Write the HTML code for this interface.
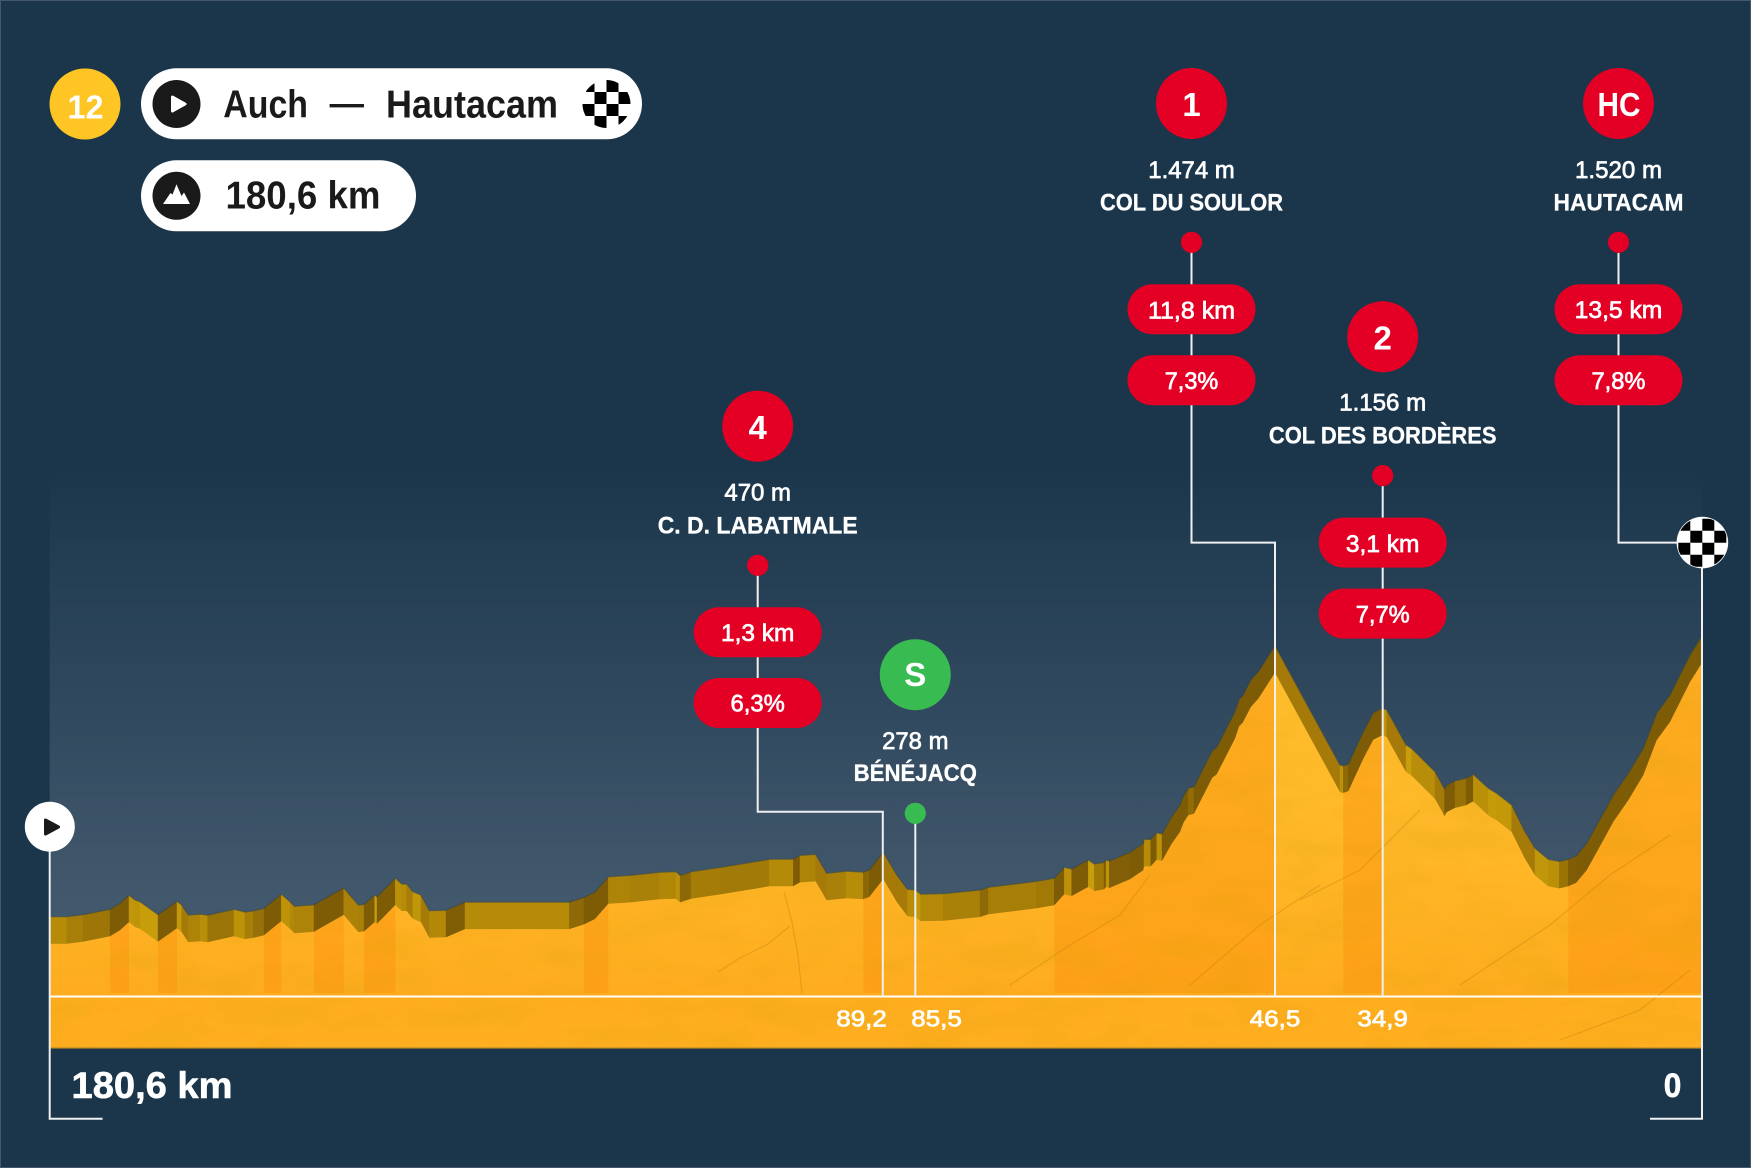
<!DOCTYPE html>
<html lang="fr">
<head>
<meta charset="utf-8">
<title>Étape 12 Auch — Hautacam</title>
<style>
html,body{margin:0;padding:0;background:#1b364b;}
svg{display:block;font-family:"Liberation Sans",sans-serif;}
.reg{font-size:24px;fill:#fff;stroke:#fff;stroke-width:.7px;text-anchor:middle;}
.name{font-size:24px;font-weight:bold;fill:#fff;stroke:#fff;stroke-width:.3px;text-anchor:middle;}
.num{font-size:33px;font-weight:bold;fill:#fff;text-anchor:middle;}
.head{font-size:38.5px;font-weight:bold;fill:#1a1a1a;}
.lead{fill:none;stroke:#eef0f2;stroke-width:2;}
</style>
</head>
<body>
<svg id="chart" xmlns="http://www.w3.org/2000/svg" width="1751" height="1168" viewBox="0 0 1751 1168">
  <defs>
    <linearGradient id="skyGrad" gradientUnits="userSpaceOnUse" x1="0" y1="470" x2="0" y2="900">
      <stop offset="0" stop-color="#1b364b"/>
      <stop offset="1" stop-color="#42586d"/>
    </linearGradient>
    <linearGradient id="frontGrad" gradientUnits="userSpaceOnUse" x1="0" y1="650" x2="0" y2="1000">
      <stop offset="0" stop-color="#ffc02e"/>
      <stop offset="0.57" stop-color="#ffb728"/>
      <stop offset="0.86" stop-color="#ffb022"/>
      <stop offset="1" stop-color="#feac1f"/>
    </linearGradient>
    <filter id="rock" x="0" y="0" width="100%" height="100%">
      <feTurbulence type="fractalNoise" baseFrequency="0.014 0.035" numOctaves="5" seed="11"/>
      <feColorMatrix type="matrix" values="0 0 0 0 0.55  0 0 0 0 0.33  0 0 0 0 0  0 0 0 1.3 -0.5"/>
    </filter>
    <clipPath id="terrainClip"><polygon id="terrainClipShape" points="0,0"/></clipPath>
    <clipPath id="pillChequerClip"><circle cx="606.5" cy="104" r="24"/></clipPath>
    <clipPath id="finishChequerClip"><circle cx="1702.4" cy="542.6" r="25"/></clipPath>
  </defs>

  <rect x="0.5" y="0.5" width="1750" height="1167" fill="#1b364b" stroke="#46596a" stroke-width="1"/>
  <rect x="49.7" y="470" width="1652.3" height="530" fill="url(#skyGrad)"/>

  <g id="faces"></g>
  <polyline id="ridge" fill="none" stroke="#2b4450" stroke-opacity="0.55" stroke-width="1.2" points="0,0"/>
  <polygon id="front" fill="url(#frontGrad)" points="0,0"/>
  <g id="climbs"></g>
  <rect x="49.7" y="997" width="1652.3" height="51" fill="#ffae20"/>
  <rect x="49.7" y="1047.4" width="1652.3" height="1.2" fill="#b98a25"/>
  <g clip-path="url(#terrainClip)">
    <rect x="49.7" y="620" width="1652.3" height="430" filter="url(#rock)" opacity="0.26"/>
    <g fill="none" stroke="#c4820f" stroke-opacity="0.4" stroke-width="1.2">
      <path d="M718 972l22 -14 28 -14 22 -18"/>
      <path d="M784 892l8 30 6 34 4 38"/>
      <path d="M1010 985l60 -40 50 -30 30 -40"/>
      <path d="M1190 985l70 -60 60 -40"/>
      <path d="M1300 900l60 -30 60 -60"/>
      <path d="M1460 985l90 -60 60 -50 60 -40"/>
      <path d="M1560 1040l80 -30 50 -40"/>
    </g>
  </g>

  <line x1="49.7" y1="996.5" x2="1702" y2="996.5" stroke="#fff" stroke-width="2"/>
  <polyline class="lead" points="49.7,850 49.7,1118.7 102.6,1118.7"/>
  <polyline class="lead" points="1702,565 1702,1118.7 1650,1118.7"/>
  <polyline class="lead" points="1618.5,253 1618.5,542.6 1678,542.6"/>
  <g id="leaders"></g>
  <g id="ticks"></g>

  <!-- header -->
  <g>
    <circle cx="85" cy="104" r="35.5" fill="#fec524"/>
    <text x="85.5" y="118.5" class="num" textLength="36" lengthAdjust="spacingAndGlyphs">12</text>
  </g>
  <g>
    <rect x="141" y="68.3" width="501" height="71" rx="35.5" fill="#fff"/>
    <circle cx="176.5" cy="104" r="24" fill="#1a1a1a"/>
    <polygon points="172.5,97 185,104 172.5,111" fill="#fff" stroke="#fff" stroke-width="3" stroke-linejoin="round"/>
    <text x="223.3" y="117.3" class="head" textLength="84.7" lengthAdjust="spacingAndGlyphs">Auch</text>
    <rect x="329.6" y="104" width="34.4" height="3.4" fill="#1a1a1a"/>
    <text x="386" y="117.3" class="head" textLength="172" lengthAdjust="spacingAndGlyphs">Hautacam</text>
    <g clip-path="url(#pillChequerClip)">
      <rect x="582.5" y="80" width="48" height="48" fill="#fff"/>
      <path d="M582.5 80h12v12h-12zM606.5 80h12v12h-12zM594.5 92h12v12h-12zM618.5 92h12v12h-12zM582.5 104h12v12h-12zM606.5 104h12v12h-12zM594.5 116h12v12h-12zM618.5 116h12v12h-12z" fill="#000"/>
    </g>
  </g>
  <g>
    <rect x="141" y="160.3" width="275" height="71" rx="35.5" fill="#fff"/>
    <circle cx="176.5" cy="195.8" r="24" fill="#1a1a1a"/>
    <polygon points="163,204 170.5,193 172.5,194.5 176.5,184.3 181.5,196 184,192.5 190,204" fill="#fff"/>
    <text x="225.5" y="208.7" class="head" textLength="155" lengthAdjust="spacingAndGlyphs">180,6 km</text>
  </g>

  <!-- Start / finish markers -->
  <g>
    <circle cx="49.8" cy="826.7" r="25" fill="#fff"/>
    <polygon points="45.5,820 58.5,827 45.5,834" fill="#1a1a1a" stroke="#1a1a1a" stroke-width="3" stroke-linejoin="round"/>
  </g>
  <g>
    <circle cx="1702.4" cy="542.6" r="25.8" fill="#fff"/>
    <g clip-path="url(#finishChequerClip)">
      <path d="M1678.3 518.7h12v12h-12zM1702.3 518.7h12v12h-12zM1690.3 530.7h12v12h-12zM1714.3 530.7h12v12h-12zM1678.3 542.7h12v12h-12zM1702.3 542.7h12v12h-12zM1690.3 554.7h12v12h-12zM1714.3 554.7h12v12h-12z" fill="#000"/>
    </g>
  </g>

  <!-- Côte 4 -->
  <g>
    <circle cx="757.7" cy="426.2" r="35.5" fill="#e30024"/>
    <text x="757.7" y="439" class="num">4</text>
    <text x="757.7" y="500.7" class="reg" textLength="66.7" lengthAdjust="spacingAndGlyphs">470 m</text>
    <text x="757.7" y="533.3" class="name" textLength="200" lengthAdjust="spacingAndGlyphs">C. D. LABATMALE</text>
    <circle cx="757.7" cy="565.3" r="10.6" fill="#e30024"/>
    <rect x="693.7" y="607.3" width="128" height="50" rx="25" fill="#e30024"/>
    <text x="757.7" y="641" class="reg" textLength="73.3" lengthAdjust="spacingAndGlyphs">1,3 km</text>
    <rect x="693.7" y="678" width="128" height="50" rx="25" fill="#e30024"/>
    <text x="757.7" y="711.7" class="reg" textLength="54.3" lengthAdjust="spacingAndGlyphs">6,3%</text>
  </g>
  <!-- Sprint -->
  <g>
    <circle cx="915.3" cy="674.7" r="35.5" fill="#38bc52"/>
    <text x="915.3" y="686" class="num">S</text>
    <text x="915.3" y="749" class="reg" textLength="66.3" lengthAdjust="spacingAndGlyphs">278 m</text>
    <text x="915.3" y="781" class="name" textLength="123.3" lengthAdjust="spacingAndGlyphs">BÉNÉJACQ</text>
    <circle cx="915.3" cy="813.3" r="10.6" fill="#38bc52"/>
  </g>
  <!-- Côte 1 -->
  <g>
    <circle cx="1191.5" cy="103.5" r="35.5" fill="#e30024"/>
    <text x="1191.5" y="116" class="num">1</text>
    <text x="1191.5" y="178" class="reg" textLength="86.5" lengthAdjust="spacingAndGlyphs">1.474 m</text>
    <text x="1191.5" y="210.7" class="name" textLength="183" lengthAdjust="spacingAndGlyphs">COL DU SOULOR</text>
    <circle cx="1191.5" cy="242.3" r="10.6" fill="#e30024"/>
    <rect x="1127.5" y="284.3" width="128" height="50" rx="25" fill="#e30024"/>
    <text x="1191.5" y="318.7" class="reg" textLength="87" lengthAdjust="spacingAndGlyphs">11,8 km</text>
    <rect x="1127.5" y="355.3" width="128" height="50" rx="25" fill="#e30024"/>
    <text x="1191.5" y="389" class="reg" textLength="53.5" lengthAdjust="spacingAndGlyphs">7,3%</text>
  </g>
  <!-- Côte 2 -->
  <g>
    <circle cx="1382.7" cy="336.8" r="35.5" fill="#e30024"/>
    <text x="1382.7" y="349.5" class="num">2</text>
    <text x="1382.7" y="410.5" class="reg" textLength="87" lengthAdjust="spacingAndGlyphs">1.156 m</text>
    <text x="1382.7" y="443.3" class="name" textLength="227.6" lengthAdjust="spacingAndGlyphs">COL DES BORDÈRES</text>
    <circle cx="1382.7" cy="475.6" r="10.6" fill="#e30024"/>
    <rect x="1318.7" y="517.6" width="128" height="50" rx="25" fill="#e30024"/>
    <text x="1382.7" y="552" class="reg" textLength="73.5" lengthAdjust="spacingAndGlyphs">3,1 km</text>
    <rect x="1318.7" y="588.6" width="128" height="50" rx="25" fill="#e30024"/>
    <text x="1382.7" y="622.3" class="reg" textLength="54" lengthAdjust="spacingAndGlyphs">7,7%</text>
  </g>
  <!-- HC -->
  <g>
    <circle cx="1618.5" cy="103.5" r="35.5" fill="#e30024"/>
    <text x="1619" y="116" class="num" textLength="43" lengthAdjust="spacingAndGlyphs">HC</text>
    <text x="1618.5" y="178" class="reg" textLength="87" lengthAdjust="spacingAndGlyphs">1.520 m</text>
    <text x="1618.5" y="210.7" class="name" textLength="130" lengthAdjust="spacingAndGlyphs">HAUTACAM</text>
    <circle cx="1618.5" cy="242.3" r="10.6" fill="#e30024"/>
    <rect x="1554.5" y="284.3" width="128" height="50" rx="25" fill="#e30024"/>
    <text x="1618.5" y="318" class="reg" textLength="87.7" lengthAdjust="spacingAndGlyphs">13,5 km</text>
    <rect x="1554.5" y="355.3" width="128" height="50" rx="25" fill="#e30024"/>
    <text x="1618.5" y="389" class="reg" textLength="54" lengthAdjust="spacingAndGlyphs">7,8%</text>
  </g>

  <text x="71.5" y="1098" font-size="37" font-weight="bold" fill="#fff" stroke="#fff" stroke-width="0.6" textLength="161" lengthAdjust="spacingAndGlyphs">180,6 km</text>
  <text x="1672.5" y="1097" font-size="34" font-weight="bold" fill="#fff" stroke="#fff" stroke-width="0.6" text-anchor="middle" textLength="17.6" lengthAdjust="spacingAndGlyphs">0</text>
</svg>

<script>
// Distance remaining (km) along the profile
const profileKm = [180.6,178.74,176.93,174.01,172.91,171.93,171.28,170.73,168.76,166.68,166.17,165.45,164.17,163.33,160.45,159.25,158.34,157.18,155.28,154.33,153.86,151.71,148.46,146.87,146.24,145.08,144.82,142.82,142.12,141.58,140.92,140.02,139.11,137.28,135.21,123.81,122.2,121.0,119.54,117.17,113.97,112.14,111.7,110.5,107.22,101.95,99.32,98.59,96.87,95.67,93.56,91.67,91.02,89.49,88.02,86.84,85.96,85.4,82.93,78.92,78.01,72.72,70.79,69.7,68.89,67.08,66.42,65.36,65.14,64.78,62.52,61.07,60.99,60.26,59.6,59.02,57.96,57.06,56.67,56.15,55.52,53.52,53.04,51.04,50.57,50.2,49.3,48.5,46.67,39.57,39.21,38.66,37.02,35.93,34.94,34.46,32.35,31.73,29.18,28.64,28.15,27.9,27.0,25.8,25.0,23.36,22.44,20.8,19.35,18.25,16.8,15.6,14.61,13.77,12.6,10.79,9.7,8.06,6.42,4.95,3.5,1.31,0];
// Elevation (m) at each profile point
const profileElev = [157,157,167,193,222,262,238,230,167,232,214,165,169,165,193,180,185,198,267,230,208,215,297,214,217,262,254,345,316,316,279,262,186,188,228,228,251,277,351,358,373,376,358,376,397,436,437,455,460,368,378,374,384,471,360,290,287,267,269,287,300,329,344,397,389,433,413,421,433,428,470,514,533,533,565,559,643,700,745,781,789,964,980,1154,1215,1231,1308,1348,1474,894,890,898,1056,1149,1170,1162,992,974,862,818,778,797,817,830,849,781,757,700,570,490,436,426,436,452,514,660,749,854,976,1146,1235,1429,1522];
// Climbing sections: start and end km
const climbStartKm = [174.01,168.76,157.18,151.71,146.24,122.2,91.67,70.79,39.21,14.61];
const climbEndKm = [171.93,166.68,155.28,148.46,142.82,119.54,89.49,46.67,34.94,0];
// Distance markers
const tickKm = [89.54,85.99,46.67,34.9];
const tickLabels = ['89,2','85,5','46,5','34,9'];
const tickAlign = ['end','start','middle','middle'];

const xScale = km => 1702 - km * 9.149;
const yScale = elev => 976 - elev * 0.2057;
const DEPTH = 27, BASE = 996.5, BAND_BOTTOM = 1048, CLIMB_BOTTOM = 993;
const NS = 'http://www.w3.org/2000/svg';
const byId = id => document.getElementById(id);
const mk = tag => document.createElementNS(NS, tag);

const pts = profileKm.map((k, i) => [xScale(k), yScale(profileElev[i])]);
const pStr = a => a.map(p => p[0].toFixed(1) + ',' + p[1].toFixed(1)).join(' ');

function faceColour(s) {
  const flat = [182,139,8], dark = [126,92,6], light = [200,158,10], steep = [166,122,8];
  let a = flat, b = flat, t = 0;
  if (s < 0) { b = dark; t = Math.min(1, -s / 0.45); }
  else if (s <= 0.7) { b = light; t = s / 0.7; }
  else { a = light; b = steep; t = Math.min(1, (s - 0.7) / 0.6); }
  return 'rgb(' + a.map((v, i) => Math.round(v + (b[i] - v) * t)).join(',') + ')';
}

// Side faces of the extruded profile
for (let i = 0; i < pts.length - 1; i++) {
  const a = pts[i], b = pts[i + 1];
  const s = (b[1] - a[1]) / (b[0] - a[0]);
  const face = mk('polygon');
  face.setAttribute('points', pStr([[a[0], a[1] - DEPTH], [b[0], b[1] - DEPTH], b, a]));
  face.setAttribute('fill', faceColour(s));
  face.setAttribute('stroke', faceColour(s));
  face.setAttribute('stroke-width', '0.4');
  
  
  byId('faces').appendChild(face);
}

byId('ridge').setAttribute('points', pStr(pts.map(p => [p[0], p[1] - DEPTH])));

const x0 = xScale(profileKm[0]), x1 = xScale(profileKm[profileKm.length - 1]);
byId('front').setAttribute('points', pStr(pts) + ' ' + x1 + ',' + BASE + ' ' + x0 + ',' + BASE);
byId('terrainClipShape').setAttribute('points',
  pStr(pts) + ' ' + x1 + ',' + BAND_BOTTOM + ' ' + x0 + ',' + BAND_BOTTOM);

// Elevation on the profile at a given km (for climb band tops)
function elevAt(km) {
  for (let i = 0; i < profileKm.length - 1; i++) {
    if (km <= profileKm[i] && km >= profileKm[i + 1]) {
      const t = (profileKm[i] - km) / (profileKm[i] - profileKm[i + 1] || 1);
      return profileElev[i] + (profileElev[i + 1] - profileElev[i]) * t;
    }
  }
  return profileElev[profileElev.length - 1];
}

// Climb bands follow the terrain top
climbStartKm.forEach((start, c) => {
  const end = climbEndKm[c];
  const top = [[xScale(start), yScale(elevAt(start))]];
  profileKm.forEach((k, i) => { if (k < start && k > end) top.push(pts[i]); });
  top.push([xScale(end), yScale(elevAt(end))]);
  const band = mk('polygon');
  band.setAttribute('points', pStr(top) + ' ' + xScale(end) + ',' + CLIMB_BOTTOM + ' ' + xScale(start) + ',' + CLIMB_BOTTOM);
  band.setAttribute('fill', '#fb8a0a');
  band.setAttribute('fill-opacity', '0.33');
  
  
  byId('climbs').appendChild(band);
});

// Distance tick labels
tickKm.forEach((k, i) => {
  const label = mk('text');
  const anchor = tickAlign[i];
  const nudge = anchor === 'end' ? 4 : anchor === 'start' ? -4 : 0;
  label.setAttribute('x', (xScale(k) + nudge).toFixed(1));
  label.setAttribute('y', '1026.5');
  label.setAttribute('text-anchor', anchor);
  label.setAttribute('font-size', '23');
  label.setAttribute('fill', '#fff');
  label.setAttribute('stroke', '#fff');
  label.setAttribute('stroke-width', '0.7');
  label.setAttribute('textLength', '50.5');
  label.setAttribute('lengthAdjust', 'spacingAndGlyphs');
  
  
  label.textContent = tickLabels[i];
  byId('ticks').appendChild(label);
});

// Leaders from each callout down to its km position on the baseline
function addLeader(labelX, topY, elbowY, km) {
  const x = xScale(km);
  const line = mk('polyline');
  line.setAttribute('class', 'lead');
  line.setAttribute('points', pStr([[labelX, topY], [labelX, elbowY], [x, elbowY], [x, BASE]]));
  
  
  byId('leaders').appendChild(line);
}
addLeader(757.7, 570, 811.7, tickKm[0]);
addLeader(915.3, 818, 818, tickKm[1]);
addLeader(1191.5, 247, 542.6, tickKm[2]);
addLeader(1382.7, 480, 560, tickKm[3]);
</script>
</body>
</html>
